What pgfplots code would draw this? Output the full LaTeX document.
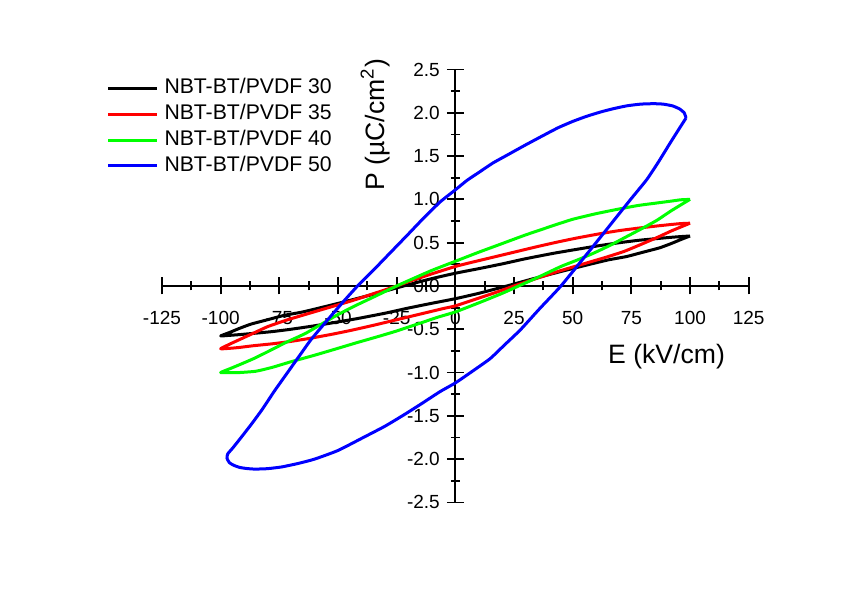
\documentclass[border=0pt]{standalone}
\usepackage{fontspec}
\setmainfont{Liberation Sans}
\usepackage{pgfplots}
\pgfplotsset{compat=1.18}
\definecolor{cgreen}{RGB}{0,255,0}
\definecolor{cred}{RGB}{255,0,0}
\definecolor{cblue}{RGB}{0,0,255}
\begin{document}
\begin{tikzpicture}
\begin{axis}[
  scale only axis, width=293.4pt, height=216.5pt,
  xmin=-125, xmax=125, ymin=-2.5, ymax=2.5,
  axis lines=middle,
  axis line style={-, line width=0.9pt},
  every inner x axis line/.append style={-},
  every inner y axis line/.append style={-},
  xtick={-125,-100,-75,-50,-25,0,25,50,75,100,125},
  ytick={-2.5,-2,-1.5,-1,-0.5,0,0.5,1,1.5,2,2.5},
  hide obscured x ticks=false, hide obscured y ticks=false,
  minor x tick num=1, minor y tick num=1,
  tick align=center,
  major tick length=8.5pt, minor tick length=4.5pt,
  tick style={black, line width=0.9pt},
  /pgf/number format/assume math mode=true,
  yticklabel style={/pgf/number format/fixed, /pgf/number format/fixed zerofill,
    /pgf/number format/precision=1, font=\fontsize{9.5}{11}\selectfont},
  xticklabel style={font=\fontsize{9.5}{11}\selectfont, yshift=-5pt},
  xlabel={E (kV/cm)},
  ylabel={P (µC/cm\textsuperscript{2})},
  every axis x label/.style={at={(axis cs:90,-0.82)}, anchor=center, font=\fontsize{13.3}{15}\selectfont},
  every axis y label/.style={at={(axis cs:-34.2,1.86)}, anchor=center, rotate=90, font=\fontsize{13.3}{15}\selectfont},
  legend style={draw=none, fill=none, inner sep=0pt, at={(axis cs:-148.8,2.40)}, anchor=north west,
    font=\fontsize{10.6}{12}\selectfont, row sep=2.9pt, column sep=3pt,
    nodes={inner sep=0pt, text height=7.7pt, text depth=2.3pt}},
  legend cell align=left,
  legend image code/.code={\draw[#1] (0pt,0pt) -- (24.5pt,0pt);},
  clip=false,
  every axis plot/.append style={line width=1.5pt, line join=round, mark=none, smooth, tension=0.3},
]
% NBT-BT/PVDF 30
\addplot[black] coordinates {
(100,0.577) (97,0.572) (92,0.562) (85,0.545) (78,0.527) (70,0.50) (60,0.46) (50,0.415) (42,0.378) (30,0.315) (20,0.255) (10,0.20) (0,0.147) (-10,0.085) (-22,0.0) (-32,-0.075) (-44,-0.16) (-55,-0.235) (-65,-0.30) (-73,-0.34) (-80,-0.39) (-87,-0.44) (-92,-0.49) (-96,-0.535) (-100,-0.577)
(-97,-0.572) (-92,-0.562) (-85,-0.545) (-78,-0.527) (-70,-0.50) (-60,-0.46) (-50,-0.415) (-42,-0.378) (-30,-0.315) (-20,-0.255) (-10,-0.20) (0,-0.147) (10,-0.085) (22,0.0) (32,0.075) (44,0.16) (55,0.235) (65,0.30) (73,0.34) (80,0.39) (87,0.44) (92,0.49) (96,0.535) (100,0.577)
};
% NBT-BT/PVDF 35
\addplot[cred] coordinates {
(100,0.725) (96,0.72) (92,0.71) (85,0.69) (78,0.668) (70,0.64) (62,0.605) (52,0.555) (44,0.51) (35,0.455) (25,0.39) (15,0.325) (5,0.26) (0,0.225) (-10,0.14) (-18,0.068) (-25,0.0) (-35,-0.09) (-44,-0.17) (-54,-0.25) (-64,-0.33) (-72,-0.395) (-80,-0.47) (-86,-0.545) (-92,-0.62) (-96,-0.67) (-100,-0.725)
(-96,-0.72) (-92,-0.71) (-86,-0.69) (-78,-0.668) (-70,-0.64) (-62,-0.605) (-52,-0.555) (-44,-0.51) (-35,-0.455) (-25,-0.39) (-15,-0.325) (-5,-0.26) (0,-0.23) (10,-0.14) (18,-0.068) (25,0.0) (35,0.09) (44,0.17) (54,0.25) (64,0.33) (72,0.40) (80,0.49) (86,0.56) (92,0.635) (96,0.68) (100,0.725)
};
% NBT-BT/PVDF 40
\addplot[cgreen] coordinates {
(100,1.0) (96,0.995) (92,0.98) (85,0.955) (78,0.93) (70,0.89) (60,0.835) (50,0.77) (42,0.70) (30,0.59) (20,0.49) (10,0.39) (0,0.285) (-10,0.18) (-18,0.085) (-25,0.0) (-35,-0.13) (-42,-0.22) (-50,-0.33) (-57,-0.44) (-64,-0.55) (-72,-0.65) (-80,-0.76) (-86,-0.84) (-92,-0.91) (-96,-0.955) (-100,-1.0)
(-96,-1.0) (-92,-1.0) (-85,-0.985) (-78,-0.94) (-70,-0.875) (-60,-0.80) (-50,-0.72) (-42,-0.655) (-33,-0.585) (-25,-0.52) (-15,-0.43) (-8,-0.365) (0,-0.30) (10,-0.195) (20,-0.085) (27,0.0) (36,0.11) (45,0.225) (52,0.30) (59,0.38) (66,0.47) (73,0.57) (80,0.67) (86,0.76) (91.5,0.86) (96,0.935) (100,1.0)
};
% NBT-BT/PVDF 50
\addplot[cblue] coordinates {
(98.3,1.94) (97.5,2.0) (95.5,2.045) (92.5,2.08) (88.5,2.10) (84.5,2.105) (79,2.10) (73,2.08) (67,2.045) (62,2.01) (56,1.96) (50,1.90) (44,1.83) (39,1.76) (30,1.63) (22,1.51) (16,1.42) (10.5,1.32) (5,1.22) (0,1.11) (-6.5,0.97) (-14,0.77) (-20,0.6) (-25,0.46) (-30,0.32) (-35,0.18) (-42,-0.01) (-48,-0.19) (-55,-0.41) (-61.5,-0.62) (-66,-0.79) (-71.5,-1.0) (-77,-1.21) (-82.4,-1.43) (-87,-1.6) (-91,-1.74) (-94.5,-1.86) (-97,-1.94)
(-97.3,-1.99) (-96.3,-2.04) (-94.5,-2.07) (-92,-2.095) (-89,-2.108) (-85.4,-2.115) (-80,-2.11) (-74,-2.09) (-67,-2.05) (-60,-2.0) (-50,-1.90) (-38.5,-1.74) (-30,-1.62) (-22,-1.49) (-15,-1.37) (-6.5,-1.22) (0,-1.12) (7,-0.99) (14.8,-0.84) (21,-0.68) (27.6,-0.51) (36,-0.26) (45,0.0) (57,0.40) (68.8,0.80) (75,1.01) (81.6,1.23) (86.5,1.43) (91.5,1.65) (95,1.80) (98.3,1.94)
};
\legend{NBT-BT/PVDF 30,NBT-BT/PVDF 35,NBT-BT/PVDF 40,NBT-BT/PVDF 50}
\coordinate (bl) at (rel axis cs:0,0);
\coordinate (tr) at (rel axis cs:1,1);
\end{axis}
\pgfresetboundingbox
\path[use as bounding box] ([xshift=-81pt,yshift=-47.75pt]bl) rectangle ([xshift=52.15pt,yshift=34.75pt]tr);
\end{tikzpicture}
\end{document}
